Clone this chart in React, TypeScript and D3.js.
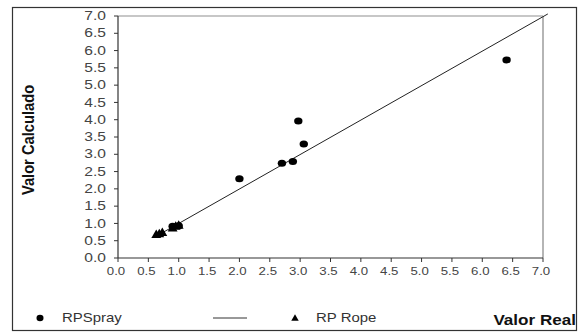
import React from "react";
import * as d3 from "d3";

const ticks = [0, 0.5, 1, 1.5, 2, 2.5, 3, 3.5, 4, 4.5, 5, 5.5, 6, 6.5, 7];
const sprayX = [0.9, 1.0, 2.0, 2.7, 2.88, 2.97, 3.06, 6.4];
const sprayY = [0.92, 0.93, 2.29, 2.74, 2.79, 3.96, 3.3, 5.73];
const ropeX = [0.63, 0.68, 0.73, 0.9, 0.95, 1.0];
const ropeY = [0.66, 0.68, 0.72, 0.85, 0.9, 0.93];
const lineX = [0.6, 7.08];
const lineY = [0.6, 7.06];

export default function App() {
  const W = 585, H = 333;
  const x = d3.scaleLinear().domain([0, 7]).range([118, 543]);
  const y = d3.scaleLinear().domain([0, 7]).range([258, 16]);
  const line = d3.line<number>().x((d, i) => x(lineX[i])).y((d, i) => y(lineY[i]));
  const tri = d3.symbol().type(d3.symbolTriangle).size(42);
  const font = "Arial, 'Liberation Sans', sans-serif";
  const T = (props: any) => {
    const { x: tx, y: ty, sx = 1.2, children, ...rest } = props;
    return (
      <text transform={`translate(${tx},${ty}) scale(${sx},1)`} fontFamily={font} {...rest}>
        {children}
      </text>
    );
  };
  return (
    <svg width={W} height={H} style={{ position: "absolute", left: 0, top: 0 }}>
      <rect x={0} y={0} width={W} height={H} fill="#fff" />
      <rect x={12.5} y={7.5} width={564} height={323} fill="none" stroke="#333" strokeWidth={1.2} />
      <line x1={x(0)} x2={x(7)} y1={y(7)} y2={y(7)} stroke="#b5b5b5" strokeWidth={1.5} />
      <line x1={x(7)} x2={x(7)} y1={y(7)} y2={y(0)} stroke="#b5b5b5" strokeWidth={2} />
      <line x1={x(0)} x2={x(0)} y1={y(7)} y2={y(0)} stroke="#333" strokeWidth={1.2} />
      <line x1={x(0)} x2={x(7)} y1={y(0)} y2={y(0)} stroke="#333" strokeWidth={1.2} />
      {ticks.map((t) => (
        <g key={"y" + t}>
          <line x1={x(0) - 4} x2={x(0)} y1={y(t)} y2={y(t)} stroke="#333" />
          <T x={106} y={y(t) + 4.2} sx={1.3} textAnchor="end" fontSize={12} fill="#444">
            {t.toFixed(1)}
          </T>
        </g>
      ))}
      {ticks.map((t) => (
        <g key={"x" + t}>
          <line x1={x(t)} x2={x(t)} y1={y(0)} y2={y(0) + 4} stroke="#333" />
          <T x={x(t) - 2} y={275} sx={1.15} textAnchor="middle" fontSize={11.5} fill="#444">
            {t.toFixed(1)}
          </T>
        </g>
      ))}
      <path d={line(lineX) || ""} fill="none" stroke="#222" strokeWidth={1} />
      {sprayX.map((v, i) => (
        <ellipse key={"s" + i} cx={x(v)} cy={y(sprayY[i])} rx={4.2} ry={3.5} fill="#000" />
      ))}
      {ropeX.map((v, i) => (
        <path key={"r" + i} d={tri() || ""} transform={`translate(${x(v)},${y(ropeY[i])})`} fill="#000" />
      ))}
      <text transform="translate(34,140) rotate(-90) scale(1.05,1.15)" textAnchor="middle" fontSize={14} fontWeight="bold" fontFamily={font} fill="#111">
        Valor Calculado
      </text>
      <T x={576} y={325} sx={1.22} textAnchor="end" fontSize={14} fontWeight="bold" fill="#111">
        Valor Real
      </T>
      <ellipse cx={40} cy={318} rx={3.5} ry={3.2} fill="#000" />
      <T x={62} y={322} sx={1.15} fontSize={13} fill="#333">RPSpray</T>
      <line x1={213} x2={247} y1={318} y2={318} stroke="#333" strokeWidth={1} />
      <path d={d3.symbol().type(d3.symbolTriangle).size(24)() || ""} transform="translate(295,318.5)" fill="#000" />
      <T x={316} y={322} sx={1.15} fontSize={13} fill="#333">RP Rope</T>
    </svg>
  );
}
